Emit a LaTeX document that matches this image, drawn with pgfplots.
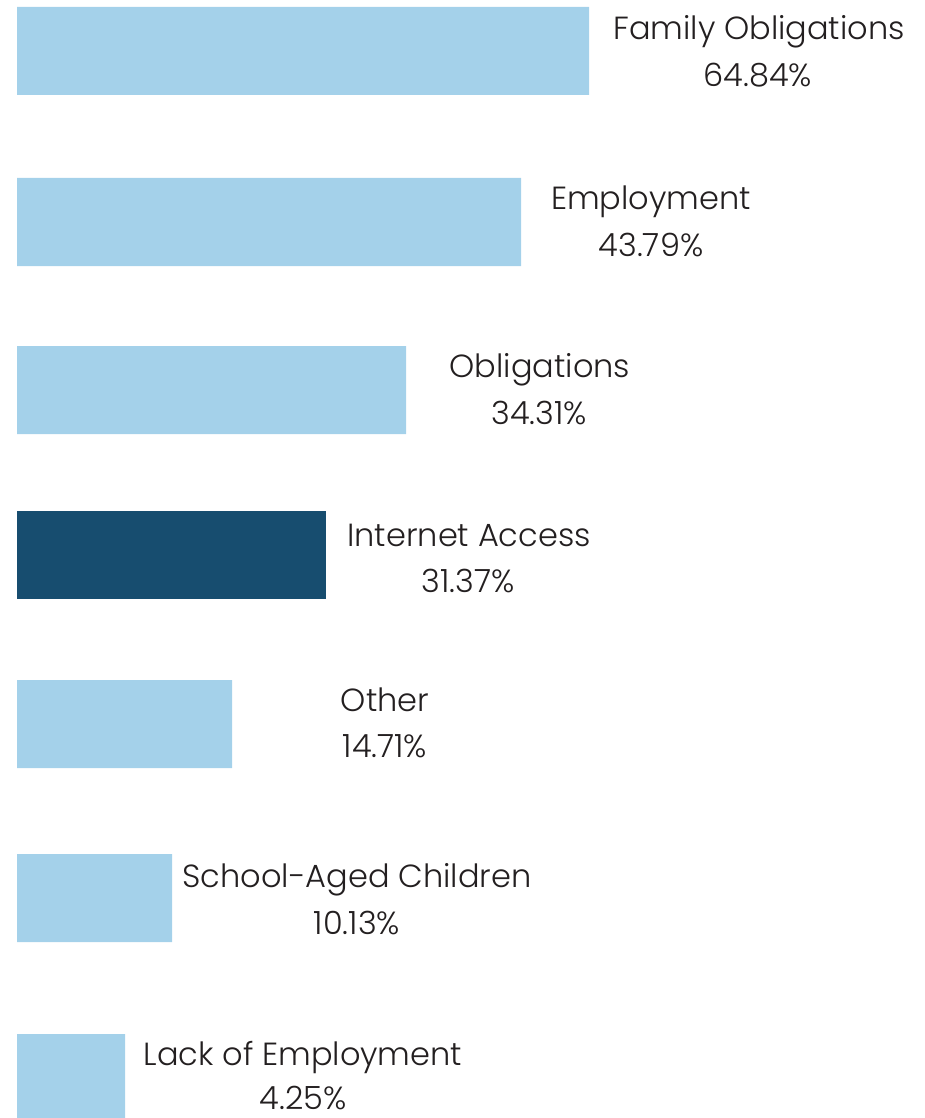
\documentclass[border=0pt]{standalone}
\usepackage{pgfplots}
\pgfplotsset{compat=1.18}
\usepackage{pgfplotstable}
\usepackage{fontspec}
\setmainfont{Poppins}[UprightFont=* Light]
\definecolor{lightbar}{HTML}{A4D1EA}
\definecolor{darkbar}{HTML}{174D6F}
\definecolor{txt}{HTML}{231F20}
% y = vertical centre (px from top), len = drawn bar length (px)
\pgfplotstableread{
y len
51 572
222 504
390 389
724 215
898 155
1078 108
}\lightdata
\pgfplotstableread{
y len
555 309
}\darkdata
\begin{document}
\begin{tikzpicture}
\begin{axis}[
  scale only axis, width=924pt, height=1118pt,
  xmin=-17, xmax=907, ymin=0, ymax=1118, y dir=reverse,
  hide axis, xbar, bar width=88pt, bar shift=0pt,
  clip=true,
]
\addplot[fill=lightbar, draw=none] table[x=len, y=y] {\lightdata};
\addplot[fill=darkbar, draw=none] table[x=len, y=y] {\darkdata};
\end{axis}
\begin{axis}[
  scale only axis, width=924pt, height=1118pt,
  xmin=-17, xmax=907, ymin=0, ymax=1118, y dir=reverse,
  hide axis, clip=false,
]
\tikzset{lab/.style={text=txt, font=\fontsize{32}{37}\selectfont, anchor=base, inner sep=0pt}}
\node[lab] at (axis cs:742,40) {Family Obligations};
\node[lab] at (axis cs:741,87) {64.84\%};
\node[lab] at (axis cs:634,209) {Employment};
\node[lab] at (axis cs:634,256) {43.79\%};
\node[lab] at (axis cs:523,377) {Obligations};
\node[lab] at (axis cs:522,424) {34.31\%};
\node[lab] at (axis cs:452,546) {Internet Access};
\node[lab] at (axis cs:451,592) {31.37\%};
\node[lab] at (axis cs:368,711) {Other};
\node[lab] at (axis cs:368,757) {14.71\%};
\node[lab] at (axis cs:340,887) {School-Aged Children};
\node[lab] at (axis cs:340,934) {10.13\%};
\node[lab] at (axis cs:286,1065) {Lack of Employment};
\node[lab] at (axis cs:286,1109) {4.25\%};
\end{axis}
\pgfresetboundingbox
\path (0,0) rectangle (924pt,1118pt);
\end{tikzpicture}
\end{document}
